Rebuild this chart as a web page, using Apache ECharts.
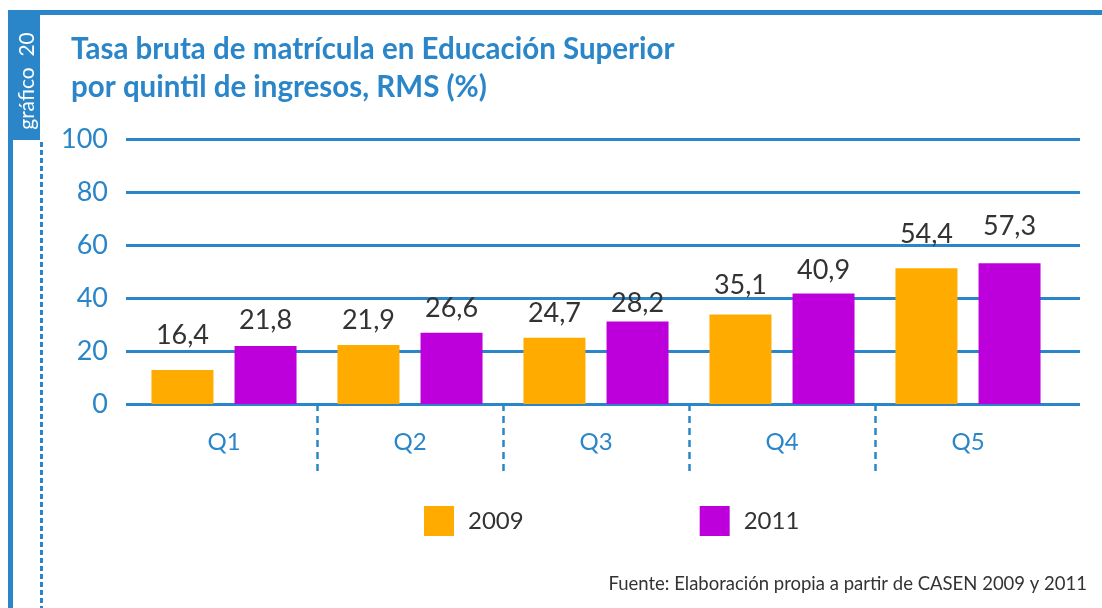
<!DOCTYPE html>
<html>
<head>
<meta charset="utf-8">
<script src="https://cdn.jsdelivr.net/npm/echarts@6/dist/echarts.min.js"></script>
<style>
html, body { margin: 0; padding: 0; background: #fff; }
#chart { width: 1102px; height: 608px; }
</style>
</head>
<body>
<div id="chart"></div>
<script>
// quintiles
var categories = ['Q1', 'Q2', 'Q3', 'Q4', 'Q5'];
// bar heights as drawn in the picture
var bars2009 = [12.8, 22.3, 25.0, 33.8, 51.2];
var bars2011 = [21.9, 26.9, 31.1, 41.7, 53.1];
// values printed above the bars
var labels2009 = [16.4, 21.9, 24.7, 35.1, 54.4];
var labels2011 = [21.8, 26.6, 28.2, 40.9, 57.3];
var yTicks = [0, 20, 40, 60, 80, 100];

var blue = '#2a86c8';
var orange = '#ffab00';
var purple = '#bd00db';
var font = 'Lato, "Open Sans", sans-serif';

var chart = echarts.init(document.getElementById('chart'));

function fmt(v) {
    return String(v).replace('.', ',');
}

function labelSeries(name, vals) {
    return {
        name: name,
        type: 'bar',
        xAxisIndex: 2,
        yAxisIndex: 1,
        barWidth: 62,
        barGap: '34%',
        silent: true,
        itemStyle: { color: 'rgba(0,0,0,0)' },
        label: {
            show: true,
            position: 'top',
            distance: 12,
            color: '#333',
            fontSize: 27,
            fontFamily: font,
            formatter: function (p) { return fmt(p.value); }
        },
        data: vals
    };
}

var option = {
    animation: false,
    title: {
        text: 'Tasa bruta de matrícula en Educación Superior\npor quintil de ingresos, RMS (%)',
        left: 71,
        top: 30,
        padding: 0,
        textStyle: {
            color: blue,
            fontSize: 29.5,
            fontWeight: 'bold',
            fontFamily: font,
            lineHeight: 38
        }
    },
    legend: {
        data: ['2009', '2011'],
        left: 424,
        top: 506,
        padding: 0,
        itemWidth: 30,
        itemHeight: 30,
        itemGap: 176,
        icon: 'rect',
        selectedMode: false,
        textStyle: {
            color: '#333',
            fontSize: 24,
            fontFamily: font,
            padding: [3, 0, 0, 9]
        }
    },
    grid: [
        { left: 126, right: 22, top: 139, bottom: 204 },
        { left: 131, right: 41, top: 139, bottom: 204 }
    ],
    xAxis: [
        { type: 'value', gridIndex: 0, show: false, min: 0, max: 1 },
        {
            type: 'category',
            gridIndex: 1,
            data: categories,
            axisLine: { show: false },
            axisTick: { show: false },
            axisLabel: { color: blue, fontSize: 24, fontFamily: font, margin: 26 }
        },
        { type: 'category', gridIndex: 1, data: categories, show: false }
    ],
    yAxis: [
        {
            type: 'value',
            gridIndex: 0,
            min: yTicks[0],
            max: yTicks[yTicks.length - 1],
            interval: 20,
            axisLine: { show: false },
            axisTick: { show: false },
            axisLabel: { color: blue, fontSize: 27, fontFamily: font, margin: 18 },
            splitLine: { lineStyle: { color: blue, width: 3 } }
        },
        { type: 'value', gridIndex: 1, min: 0, max: 100, show: false }
    ],
    graphic: [
        { type: 'rect', shape: { x: 8, y: 10, width: 1094, height: 5 }, style: { fill: blue } },
        { type: 'rect', shape: { x: 8, y: 10, width: 32, height: 130 }, style: { fill: blue } },
        { type: 'rect', shape: { x: 8, y: 140, width: 5, height: 468 }, style: { fill: blue } },
        {
            type: 'line',
            shape: { x1: 41.5, y1: 142, x2: 41.5, y2: 608 },
            style: { stroke: blue, lineWidth: 3, lineDash: [5, 3] }
        },
        {
            type: 'text',
            x: 27,
            y: 81,
            rotation: Math.PI / 2,
            style: {
                text: 'gráfico  20',
                fill: '#fff',
                font: '21px ' + font,
                textAlign: 'center',
                textVerticalAlign: 'middle'
            }
        },
        {
            type: 'text',
            right: 15,
            top: 575,
            style: {
                text: 'Fuente: Elaboración propia a partir de CASEN 2009 y 2011',
                fill: '#333',
                font: '18.5px ' + font
            }
        }
    ],
    series: [
        {
            name: '2009',
            type: 'bar',
            xAxisIndex: 1,
            yAxisIndex: 1,
            barWidth: 62,
            barGap: '34%',
            itemStyle: { color: orange },
            data: bars2009
        },
        {
            name: '2011',
            type: 'bar',
            xAxisIndex: 1,
            yAxisIndex: 1,
            barWidth: 62,
            barGap: '34%',
            itemStyle: { color: purple },
            data: bars2011
        },
        labelSeries('et2009', labels2009),
        labelSeries('et2011', labels2011),
        {
            // dashed dividers between the quintiles
            type: 'custom',
            xAxisIndex: 1,
            yAxisIndex: 1,
            silent: true,
            renderItem: function (params, api) {
                var p = api.coord([api.value(0), 0]);
                var w = api.size([1, 0])[0];
                var x = Math.round(p[0] - w / 2) + 0.5;
                return {
                    type: 'line',
                    shape: { x1: x, y1: p[1], x2: x, y2: p[1] + 68 },
                    style: { stroke: blue, lineWidth: 2.5, lineDash: [7, 5] }
                };
            },
            data: categories.slice(1).map(function (c, i) { return [i + 1, 0]; })
        }
    ]
};

chart.setOption(option);
</script>
</body>
</html>
